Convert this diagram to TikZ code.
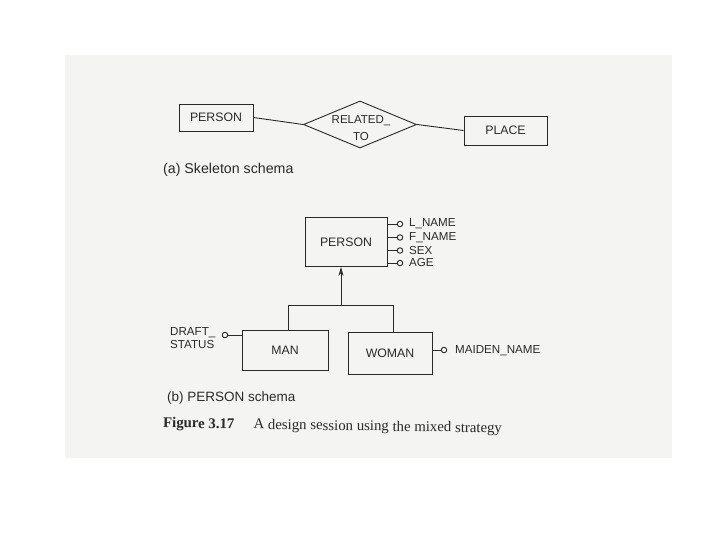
\documentclass[tikz,border=0pt]{standalone}
\usepackage{fontspec}
\setmainfont{Liberation Serif}
\setsansfont{Liberation Sans}
\usetikzlibrary{shapes.geometric,arrows.meta}
\definecolor{scan}{HTML}{F4F4F2}
\definecolor{ink}{HTML}{2A2A2A}
\begin{document}
\begin{tikzpicture}[x=1pt,y=-1pt,
  ent/.style={draw=ink,line width=0.9pt,rectangle,inner sep=0pt,font=\sffamily\fontsize{12.3}{14}\selectfont,text=ink},
  rel/.style={draw=ink,line width=0.9pt,diamond,aspect=2.4,inner sep=0pt,minimum width=113pt,minimum height=47pt},
  reltxt/.style={align=center,inner sep=0pt,font=\sffamily\fontsize{11.5}{17}\selectfont,text=ink},
  attr/.style={draw=ink,line width=0.9pt,circle,inner sep=0pt,minimum size=5.5pt,fill=scan},
  lbl/.style={font=\sffamily\fontsize{11.6}{13}\selectfont,text=ink,inner sep=0pt,anchor=west},
  captxt/.style={font=\sffamily\fontsize{13.5}{15}\selectfont,text=ink,inner sep=0pt,anchor=west},
  conn/.style={draw=ink,line width=0.9pt}]
\useasboundingbox (0,0) rectangle (720,540);
\fill[white] (0,0) rectangle (720,540);
\fill[scan] (65,55) rectangle (672,458);
% (a) skeleton schema
\node[ent,minimum width=74pt,minimum height=27pt] (pa) at (216,117.5) {PERSON};
\node[rel] (rt) at (360,124.5) {};
\node[reltxt] (rtt) at (361,128) {RELATED\_\\TO};
\node[ent,minimum width=83pt,minimum height=29pt] (pl) at (505.5,130.5) {PLACE};
\draw[conn] (pa.east) -- (rt.west);
\draw[conn] (rt.east) -- (pl.west);
\node[captxt,font=\sffamily\fontsize{14.2}{16}\selectfont] (capa) at (163,170) {(a) Skeleton schema};
% (b) person schema
\node[ent,minimum width=82pt,minimum height=49pt] (pb) at (346,242) {PERSON};
\node[attr] (a1) at (400,224) {};
\node[attr] (a2) at (400,237.5) {};
\node[attr] (a3) at (400,250.5) {};
\node[attr] (a4) at (400,263) {};
\draw[conn] (pb.east |- a1) -- (a1.west);
\draw[conn] (pb.east |- a2) -- (a2.west);
\draw[conn] (pb.east |- a3) -- (a3.west);
\draw[conn] (pb.east |- a4) -- (a4.west);
\node[lbl] (t1) at (409,224) {L\_NAME};
\node[lbl] (t2) at (409,237.5) {F\_NAME};
\node[lbl] (t3) at (409,250.5) {SEX};
\node[lbl] (t4) at (409,263) {AGE};
\node[ent,minimum width=86pt,minimum height=40pt] (man) at (285,350) {MAN};
\node[ent,minimum width=84pt,minimum height=42pt] (wom) at (390,353) {WOMAN};
\coordinate (jm) at (341,305);
\coordinate (jl) at (288,305);
\coordinate (jr) at (393,305);
\draw[conn,-{Stealth[length=9pt,width=5pt]}] (jm) -- (jm |- pb.south);
\draw[conn] (man.north -| jl) -- (jl) -- (jr) -- (wom.north -| jr);
\node[attr] (ad) at (225,335) {};
\draw[conn] (ad.east) -- (man.west |- ad);
\node[lbl,align=left] (td) at (170,338) {DRAFT\_\\STATUS};
\node[attr] (am) at (444,350) {};
\draw[conn] (wom.east |- am) -- (am.west);
\node[lbl] (tm) at (455,351) {MAIDEN\_NAME};
\node[captxt] (capb) at (167,398) {(b) PERSON schema};
\node[font=\rmfamily\fontsize{14.8}{16}\selectfont,text=ink,inner sep=0pt,anchor=west,rotate=-0.9] (fig) at (163,424) {\textbf{Figure 3.17}\hspace{1.3em}A design session using the mixed strategy};
\end{tikzpicture}
\end{document}
